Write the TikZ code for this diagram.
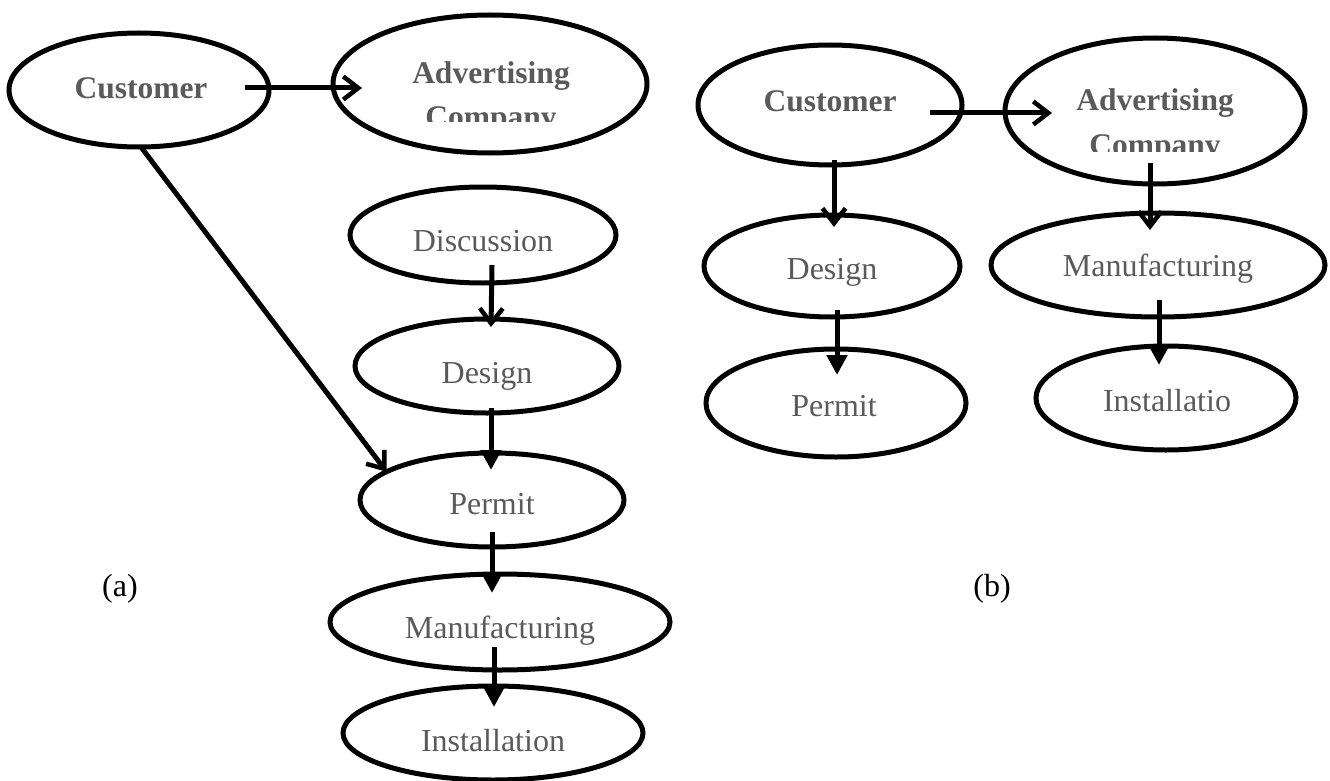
\documentclass[tikz,border=0pt]{standalone}
\usepackage{fontspec}
\setmainfont{Liberation Serif}
\usetikzlibrary{shapes.geometric,arrows.meta}
\definecolor{txtgray}{RGB}{90,90,90}
\begin{document}
\begin{tikzpicture}[x=1pt,y=-1pt,
  oval/.style={ellipse,draw,line width=5pt,inner sep=0pt,outer sep=0pt},
  lbl/.style={text=txtgray,font=\fontsize{32}{36}\selectfont,inner sep=0pt,anchor=base},
  blbl/.style={text=txtgray,font=\fontsize{31.5}{36}\selectfont\bfseries,inner sep=0pt,anchor=base},
  sublbl/.style={font=\fontsize{32}{36}\selectfont,inner sep=0pt,anchor=base},
  barb/.style={line width=5pt,-{Straight Barb[length=15pt,width=23pt,line width=4.5pt]}},
  tri/.style={line width=5pt,-{Triangle[length=20pt,width=20pt]}},
]
\useasboundingbox (0,0) rectangle (1330,781);

% ---------- panel (a) ----------
\node[oval,minimum width=260pt,minimum height=114pt] (custA) at (139,90) {};
\node[oval,minimum width=314pt,minimum height=138pt] (advA) at (490,84) {};
\node[oval,minimum width=266pt,minimum height=96pt] (discA) at (483,235) {};
\node[oval,minimum width=264pt,minimum height=94pt] (desgA) at (487,366) {};
\node[oval,minimum width=264pt,minimum height=94pt] (permA) at (492,500) {};
\node[oval,minimum width=340pt,minimum height=96pt] (manuA) at (500,622) {};
\node[oval,minimum width=300pt,minimum height=94pt] (instA) at (493,733) {};

\node[blbl] (custAt) at (141,99) {Customer};
\node[blbl] (advAt) at (491,84) {Advertising};
\begin{scope}
  \clip (340,95) rectangle (640,122);
  \node[blbl] (advAt2) at (491,128) {Company};
\end{scope}
\node[lbl] (discAt) at (483,251) {Discussion};
\node[lbl] (desgAt) at (487,383) {Design};
\node[lbl] (permAt) at (492,514) {Permit};
\node[lbl] (manuAt) at (500,638) {Manufacturing};
\node[lbl] (instAt) at (493,751) {Installation};

\draw[barb] ([xshift=-24pt,yshift=2pt]custA.east) -- ([xshift=29pt,yshift=-4pt]advA.west);
\draw[barb] ([xshift=2pt]custA.south) -- (permA.165);
\draw[barb] ([xshift=9pt,yshift=18pt]discA.south) -- ([xshift=4pt,yshift=-8pt]desgA.north);
\draw[tri] ([xshift=4pt,yshift=5pt]desgA.south) -- ([xshift=-1pt,yshift=-17pt]permA.north);
\draw[tri] ([yshift=15pt]permA.south) -- ([xshift=-8pt,yshift=-19pt]manuA.north);
\draw[tri] ([xshift=-6pt,yshift=23pt]manuA.south) -- ([xshift=1pt,yshift=-21pt]instA.north);

\node[sublbl] (labA) at (120,596) {(a)};

% ---------- panel (b) ----------
\node[oval,minimum width=264pt,minimum height=120pt] (custB) at (830,105) {};
\node[oval,minimum width=300pt,minimum height=146pt] (advB) at (1155,111) {};
\node[oval,minimum width=256pt,minimum height=102pt] (desgB) at (832,266) {};
\node[oval,minimum width=260pt,minimum height=108pt] (permB) at (836,403) {};
\node[oval,minimum width=334pt,minimum height=104pt] (manuB) at (1158,265) {};
\node[oval,minimum width=260pt,minimum height=104pt] (instB) at (1166,398) {};

\node[blbl] (custBt) at (830,112) {Customer};
\node[blbl] (advBt) at (1155,111) {Advertising};
\begin{scope}
  \clip (1005,125) rectangle (1305,151);
  \node[blbl] (advBt2) at (1155,155) {Company};
\end{scope}
\node[lbl] (desgBt) at (832,279) {Design};
\node[lbl] (permBt) at (834,416) {Permit};
\node[lbl] (manuBt) at (1158,276) {Manufacturing};
\node[lbl] (instBt) at (1167,411) {Installatio};

\draw[barb] ([xshift=-32pt,yshift=-8pt]custB.east) -- ([xshift=47pt,yshift=-2pt]advB.west);
\draw[barb] ([xshift=4pt,yshift=5pt]custB.south) -- ([xshift=2pt,yshift=-12pt]desgB.north);
\draw[tri] ([xshift=5pt,yshift=7pt]desgB.south) -- ([xshift=1pt,yshift=-26pt]permB.north);
\draw[barb] ([xshift=-5pt,yshift=21pt]advB.south) -- ([xshift=-8pt,yshift=-17pt]manuB.north);
\draw[tri] ([xshift=1pt,yshift=17pt]manuB.south) -- ([xshift=-7pt,yshift=-19pt]instB.north);

\node[sublbl] (labB) at (992,596) {(b)};
\end{tikzpicture}
\end{document}
